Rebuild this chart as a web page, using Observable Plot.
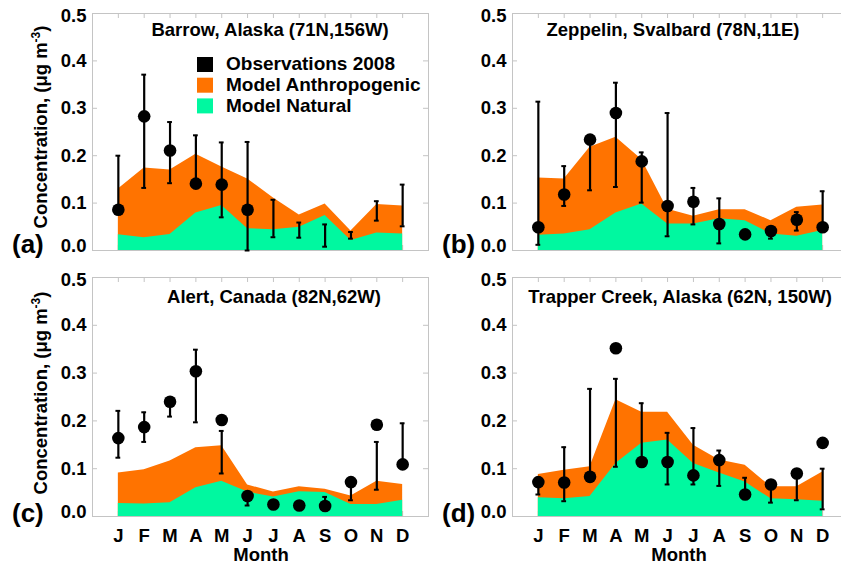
<!DOCTYPE html>
<html>
<head>
<meta charset="utf-8">
<script src="https://cdn.jsdelivr.net/npm/d3@7"></script>
<script src="https://cdn.jsdelivr.net/npm/@observablehq/plot@0.6"></script>
<style>
  html, body { margin: 0; padding: 0; background: white; }
  #wrap { position: relative; width: 841px; height: 564px; overflow: hidden; background: white;
          font-family: "Liberation Sans", Arial, Helvetica, sans-serif; font-weight: bold; }
  #wrap svg.panel { position: absolute; overflow: visible; }
  #overlay { position: absolute; left: 0; top: 0; pointer-events: none; }
</style>
</head>
<body>
<div id="wrap"></div>
<script>
// ---------- data ----------
const monthLabels = ["J","F","M","A","M","J","J","A","S","O","N","D"];
const yTickValues = [0.0, 0.1, 0.2, 0.3, 0.4, 0.5];
const legendLabels = ["Observations 2008", "Model Anthropogenic", "Model Natural"];

// (a) Barrow, Alaska
const barrowTitle = "Barrow, Alaska (71N,156W)";
const barrowAnthroTop = [0.130,0.174,0.170,0.203,0.176,0.151,0.111,0.075,0.098,0.041,0.097,0.094];
const barrowNatural   = [0.033,0.027,0.034,0.079,0.095,0.046,0.044,0.049,0.074,0.021,0.037,0.035];
const barrowObs       = [0.086,0.283,0.211,0.141,0.139,0.086,null,null,null,null,null,null];
const barrowLow       = [0.086,0.132,0.142,0.141,0.070,0.000,0.028,0.027,0.008,0.025,0.063,0.051];
const barrowHigh      = [0.200,0.371,0.271,0.243,0.228,0.229,0.107,0.059,0.055,0.039,0.104,0.139];

// (b) Zeppelin, Svalbard
const zeppelinTitle = "Zeppelin, Svalbard (78N,11E)";
const zeppelinAnthroTop = [0.153,0.151,0.218,0.239,0.192,0.087,0.072,0.086,0.086,0.063,0.091,0.096];
const zeppelinNatural   = [0.032,0.035,0.044,0.079,0.098,0.056,0.056,0.067,0.063,0.035,0.030,0.042];
const zeppelinObs       = [0.049,0.118,0.234,0.290,0.188,0.094,0.103,0.056,0.034,0.041,0.065,0.049];
const zeppelinLow       = [0.012,0.094,0.127,0.134,0.101,0.030,0.055,0.015,0.034,0.025,0.042,0.049];
const zeppelinHigh      = [0.314,0.178,0.234,0.354,0.207,0.290,0.132,0.110,0.034,0.041,0.081,0.125];

// (c) Alert, Canada
const alertTitle = "Alert, Canada (82N,62W)";
const alertAnthroTop = [0.091,0.098,0.116,0.144,0.148,0.066,0.051,0.062,0.057,0.043,0.074,0.067];
const alertNatural   = [0.027,0.026,0.029,0.060,0.074,0.051,0.041,0.052,0.050,0.025,0.025,0.034];
const alertObs       = [0.164,0.187,0.240,0.304,0.202,0.043,0.025,0.023,0.022,0.072,0.192,0.109];
const alertLow       = [0.123,0.156,0.209,0.197,0.090,0.023,0.025,0.023,0.022,0.034,0.056,0.109];
const alertHigh      = [0.221,0.218,0.240,0.349,0.179,0.043,0.025,0.023,0.041,0.072,0.156,0.195];

// (d) Trapper Creek, Alaska
const trapperTitle = "Trapper Creek, Alaska (62N, 150W)";
const trapperAnthroTop = [0.088,0.097,0.104,0.244,0.218,0.218,0.149,0.118,0.107,0.062,0.062,0.093];
const trapperNatural   = [0.039,0.037,0.042,0.111,0.153,0.160,0.111,0.091,0.072,0.037,0.035,0.032];
const trapperObs       = [0.072,0.071,0.083,0.352,0.114,0.114,0.086,0.118,0.046,0.067,0.090,0.154];
const trapperLow       = [0.046,0.032,0.083,0.104,0.114,0.067,0.067,0.064,0.046,0.029,0.034,0.015];
const trapperHigh      = [0.072,0.145,0.267,0.288,0.237,0.175,0.185,0.138,0.081,0.067,0.090,0.100];

// ---------- styling ----------
const ORANGE = "#ff7300";
const GREEN = "#00f8a0";
const FRAME = "#c4c4c4";
const FONT = "'Liberation Sans', Arial, Helvetica, sans-serif";
const FS = 18.5;

const wrap = document.getElementById("wrap");

function rowsOf(top, nat, obs, lo, hi) {
  return monthLabels.map((lab, i) => ({
    m: i + 1, label: lab, total: top[i], natural: nat[i], obs: obs[i], lo: lo[i], hi: hi[i]
  }));
}

function panel({rows, left, top, bottomAxis}) {
  const W = 432, mL = 92, mR = 4, mT = 13, mB = bottomAxis ? 48 : 12;
  const H = mT + 237 + mB + (bottomAxis ? 2 : 0);
  const frameW = W - mL - mR, frameH = H - mT - mB;
  const xPerPx = 13 / frameW, yPerPx = 0.5 / frameH;
  const tickLen = 5;
  const months = rows.map(d => d.m);
  const yMin = yTickValues[0], yMax = yTickValues[yTickValues.length - 1];
  const innerY = yTickValues.filter(v => v > yMin && v < yMax);
  const fmt = d3.format(".1f");
  const marks = [
    // inward frame ticks
    Plot.ruleX(months, {x: d => d, y1: yMax, y2: yMax - tickLen * yPerPx, stroke: FRAME}),
    Plot.ruleX(months, {x: d => d, y1: yMin, y2: yMin + tickLen * yPerPx, stroke: FRAME}),
    Plot.ruleY(innerY, {y: d => d, x1: 0, x2: tickLen * xPerPx, stroke: FRAME}),
    Plot.ruleY(innerY, {y: d => d, x1: 13, x2: 13 - tickLen * xPerPx, stroke: FRAME}),
    // model areas
    Plot.areaY(rows, {x: "m", y: "total", fill: ORANGE}),
    Plot.areaY(rows, {x: "m", y: "natural", fill: GREEN}),
    Plot.frame({stroke: FRAME}),
    // observations with ranges
    Plot.ruleX(rows.filter(d => d.lo != null), {x: "m", y1: "lo", y2: "hi", stroke: "black", strokeWidth: 2.2}),
    Plot.ruleY(rows.filter(d => d.lo != null), {y: "lo", x1: d => d.m - 2.4 * xPerPx, x2: d => d.m + 2.4 * xPerPx, stroke: "black", strokeWidth: 2}),
    Plot.ruleY(rows.filter(d => d.hi != null), {y: "hi", x1: d => d.m - 2.4 * xPerPx, x2: d => d.m + 2.4 * xPerPx, stroke: "black", strokeWidth: 2}),
    Plot.dot(rows.filter(d => d.obs != null), {x: "m", y: "obs", r: 6.3, fill: "black"}),
    // y tick labels (end labels nudged inward, as in the original)
    Plot.axisY({ticks: innerY, tickSize: 0, tickPadding: 6, tickFormat: fmt, label: null, fill: "black"}),
    Plot.axisY({ticks: [yMax], tickSize: 0, tickPadding: 6, tickFormat: fmt, label: null, fill: "black", dy: 3}),
    Plot.axisY({ticks: [yMin], tickSize: 0, tickPadding: 6, tickFormat: fmt, label: null, fill: "black", dy: -4})
  ];
  if (bottomAxis) {
    marks.push(Plot.axisX({ticks: months, tickSize: 0, tickPadding: 12,
                           tickFormat: d => monthLabels[d - 1], label: null, fill: "black"}));
  }
  const svg = Plot.plot({
    width: W, height: H,
    marginLeft: mL, marginRight: mR, marginTop: mT, marginBottom: mB,
    x: {domain: [0, 13], axis: null},
    y: {domain: [yMin, yMax], axis: null},
    style: {fontFamily: FONT, fontSize: FS + "px", fontWeight: "bold", color: "black", background: "transparent", overflow: "visible"},
    marks
  });
  svg.classList.add("panel");
  svg.style.left = left + "px";
  svg.style.top = top + "px";
  svg.style.maxWidth = "none";
  wrap.appendChild(svg);
}

panel({rows: rowsOf(barrowAnthroTop, barrowNatural, barrowObs, barrowLow, barrowHigh), left: 0, top: 0, bottomAxis: false});
panel({rows: rowsOf(zeppelinAnthroTop, zeppelinNatural, zeppelinObs, zeppelinLow, zeppelinHigh), left: 420, top: 0, bottomAxis: false});
panel({rows: rowsOf(alertAnthroTop, alertNatural, alertObs, alertLow, alertHigh), left: 0, top: 264, bottomAxis: true});
panel({rows: rowsOf(trapperAnthroTop, trapperNatural, trapperObs, trapperLow, trapperHigh), left: 420, top: 264, bottomAxis: true});

// ---------- annotations overlay ----------
const NS = "http://www.w3.org/2000/svg";
const ov = document.createElementNS(NS, "svg");
ov.setAttribute("id", "overlay");
ov.setAttribute("width", 841);
ov.setAttribute("height", 564);
ov.setAttribute("font-family", FONT);
ov.setAttribute("font-weight", "bold");
wrap.appendChild(ov);

function txt(str, x, y, opts = {}) {
  const t = document.createElementNS(NS, "text");
  t.setAttribute("x", x); t.setAttribute("y", y);
  t.setAttribute("font-size", opts.size || FS);
  t.setAttribute("text-anchor", opts.anchor || "start");
  if (opts.transform) t.setAttribute("transform", opts.transform);
  t.textContent = str;
  ov.appendChild(t);
  return t;
}

// panel titles
txt(barrowTitle, 270, 36, {anchor: "middle"});
txt(zeppelinTitle, 673, 36, {anchor: "middle"});
txt(alertTitle, 274, 303, {anchor: "middle"});
txt(trapperTitle, 680, 303, {anchor: "middle"});

// panel letters
txt("(a)", 12, 253, {size: 26});
txt("(b)", 442, 253, {size: 26});
txt("(c)", 12, 522, {size: 26});
txt("(d)", 442, 522, {size: 26});

// x-axis titles
txt("Month", 261, 561, {anchor: "middle"});
txt("Month", 679, 561, {anchor: "middle"});

// y-axis titles
function yTitle(cy) {
  const t = txt("", 0, 0, {anchor: "middle", transform: `translate(47,${cy}) rotate(-90)`});
  t.appendChild(document.createTextNode("Concentration, (\u03bcg m"));
  const sup = document.createElementNS(NS, "tspan");
  sup.setAttribute("dy", -7); sup.setAttribute("font-size", 12);
  sup.textContent = "-3";
  t.appendChild(sup);
  const close = document.createElementNS(NS, "tspan");
  close.setAttribute("dy", 7);
  close.textContent = ")";
  t.appendChild(close);
}
yTitle(127);
yTitle(393);

// legend
const legendColors = ["black", ORANGE, GREEN];
legendLabels.forEach((lab, i) => {
  const r = document.createElementNS(NS, "rect");
  r.setAttribute("x", 197); r.setAttribute("y", 57 + i * 20.7);
  r.setAttribute("width", 16); r.setAttribute("height", 15);
  r.setAttribute("fill", legendColors[i]);
  ov.appendChild(r);
  txt(lab, 226, 70 + i * 21, {size: 19});
});
</script>
</body>
</html>
